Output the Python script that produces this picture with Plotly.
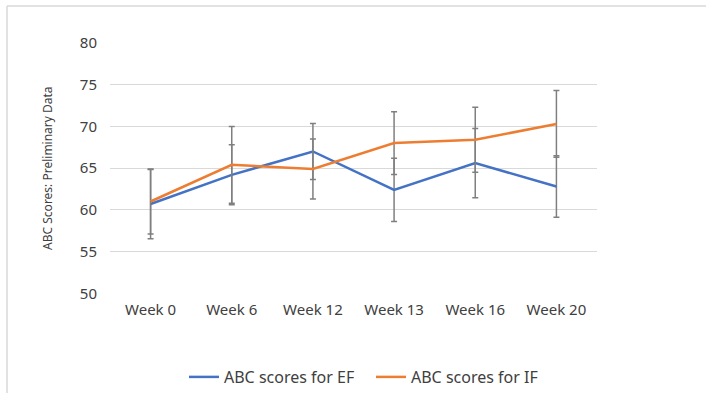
import plotly.graph_objects as go

# Assessment weeks
weeks = ["Week 0", "Week 6", "Week 12", "Week 13", "Week 16", "Week 20"]

# Mean ABC scores per group
ef_scores = [60.7, 64.2, 67.0, 62.4, 65.6, 62.8]
if_scores = [61.0, 65.4, 64.9, 68.0, 68.4, 70.3]

# Error bar half-widths
ef_err = [4.15, 3.6, 3.35, 3.8, 4.15, 3.7]
if_err = [3.9, 4.6, 3.6, 3.75, 3.9, 4.0]

y_ticks = [50, 55, 60, 65, 70, 75, 80]

FONT = "Noto Sans"
TEXT = "#404040"
ERR_COLOR = "#7f7f7f"
GRID = "#d9d9d9"

W, H = 706, 394
# Plot area edges in pixels; the paper runs to the bottom edge so the
# legend sits inside it instead of pushing the margins.
PL, PR, PT, PB = 110, 597, 43, 294

def px_x(v):
    return (v - PL) / (PR - PL)

def px_y(v):
    return (H - v) / (H - PT)

fig = go.Figure()
fig.add_trace(go.Scatter(
    x=weeks, y=ef_scores, mode="lines", name="ABC scores for EF",
    line=dict(color="#4472C4", width=2.5),
    error_y=dict(type="data", array=ef_err, visible=True,
                 color=ERR_COLOR, thickness=1.5, width=3),
))
fig.add_trace(go.Scatter(
    x=weeks, y=if_scores, mode="lines", name="ABC scores for IF",
    line=dict(color="#ED7D31", width=2.5),
    error_y=dict(type="data", array=if_err, visible=True,
                 color=ERR_COLOR, thickness=1.5, width=3),
))

# Thin frame along the top and left edges of the chart area
fig.add_shape(type="line", xref="paper", yref="paper",
              x0=px_x(7), x1=px_x(W), y0=px_y(6), y1=px_y(6),
              line=dict(color=GRID, width=1.5))
fig.add_shape(type="line", xref="paper", yref="paper",
              x0=px_x(7), x1=px_x(7), y0=px_y(6), y1=px_y(H),
              line=dict(color=GRID, width=1.5))

fig.update_layout(
    width=W, height=H,
    margin=dict(l=PL, r=W - PR, t=PT, b=0, pad=0),
    paper_bgcolor="white", plot_bgcolor="white",
    font=dict(family=FONT, size=15, color=TEXT),
    showlegend=True,
    legend=dict(orientation="h", x=px_x(184), xanchor="left",
                y=px_y(378), yanchor="middle",
                font=dict(family=FONT, size=16, color=TEXT),
                itemwidth=30, tracegroupgap=0,
                entrywidthmode="pixels", entrywidth=142),
    xaxis=dict(showgrid=False, showline=False, zeroline=False,
               range=[-0.5, len(weeks) - 0.5],
               ticks="", tickfont=dict(size=15, color=TEXT),
               ticklabelstandoff=6, automargin=False),
    yaxis=dict(range=[50, 80], tickvals=y_ticks, showgrid=True,
               domain=[px_y(PB), 1],
               gridcolor=GRID, gridwidth=1, zeroline=False, showline=False,
               ticks="", ticklabelstandoff=12, automargin=False,
               tickfont=dict(size=15, color=TEXT),
               title=dict(text="ABC Scores: Preliminary Data",
                          font=dict(size=12, color=TEXT), standoff=24)),
)

fig.write_html("out.html")
